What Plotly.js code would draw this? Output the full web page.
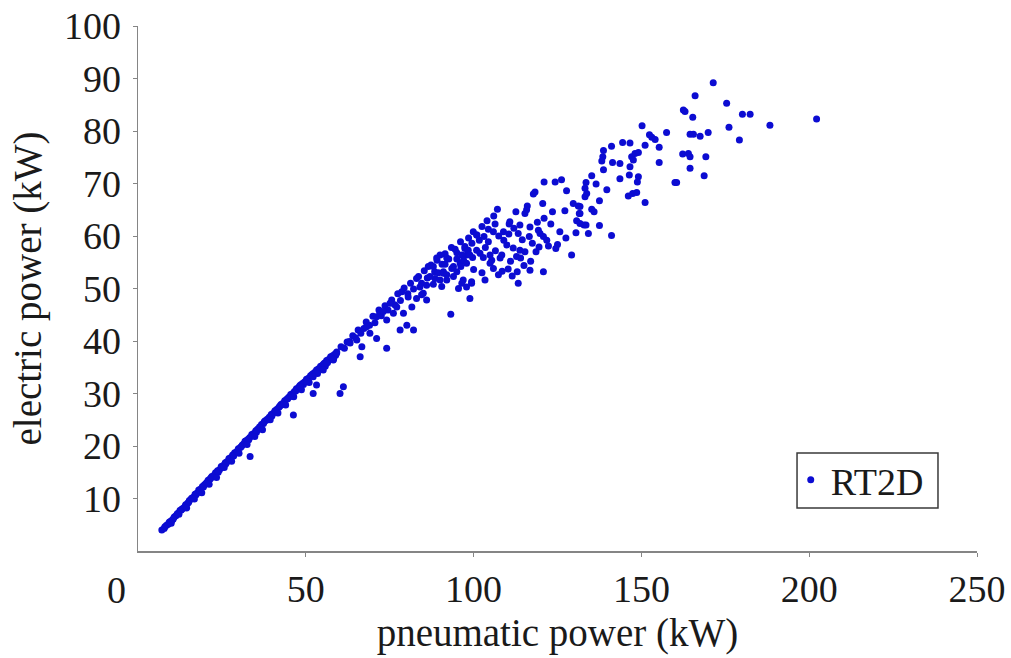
<!DOCTYPE html>
<html>
<head>
<meta charset="utf-8">
<script src="https://cdn.plot.ly/plotly-3.0.1.min.js"></script>
<style>html,body{margin:0;padding:0;background:#fff;}#chart{width:1011px;height:658px;}</style>
</head>
<body>
<div id="chart"></div>
<script>
// Tight lower band (pneumatic kW, electric kW)
var bandX = [7.1,7.8,8.5,9.0,9.6,10.2,10.8,11.3,12.0,12.5,13.1,13.6,14.2,14.8,15.3,15.9,16.4,17.0,17.5,18.1,18.7,19.2,19.8,20.3,20.9,21.5,22.0,22.6,23.1,23.7,24.3,24.8,25.4,26.0,26.5,27.1,27.7,28.2,28.8,29.4,29.9,30.5,31.1,31.6,32.2,32.8,33.3,33.9,34.5,35.1,35.6,36.2,36.8,37.4,37.9,38.5,39.1,39.7,40.2,40.8,41.4,42.0,42.6,43.1,43.7,44.3,44.9,45.5,46.1,46.6,47.2,47.8,48.4,49.0,49.6,50.2,50.8,51.4,52.0,52.6,53.2,53.8,54.4,55.0,55.6,56.2,56.8,57.4,58.0,58.6,59.2,
  8.0,9.3,10.5,11.7,12.9,14.0,15.1,16.2,17.3,18.4,19.5,20.6,21.7,22.8,23.9,25.0,26.2,27.3,28.5,29.6,30.8,31.9,33.0,34.2,35.3,36.5,37.6,38.8,39.9,41.1,42.3,43.4,44.6,45.8,47.0,48.1,49.3,50.5,51.7,52.9,54.1,55.3,56.5,57.7,58.9,
  9.9,12.2,14.5,16.8,19.0,21.2,23.4,25.7,27.9,30.1,32.5,34.8,37.1,39.4,41.7,44.0,46.4,48.7,51.0,53.5,55.8,58.3,33.4,46.3,52.2];
var bandY = [4.0,4.3,4.9,5.1,5.6,5.9,6.5,6.7,7.2,7.7,8.0,8.2,8.8,9.1,9.6,10.0,10.2,10.8,11.0,11.6,11.8,12.3,12.6,12.9,13.5,13.7,14.2,14.4,14.9,15.3,15.5,16.1,16.3,16.8,17.0,17.6,17.8,18.3,18.7,18.9,19.5,19.7,20.2,20.5,21.0,21.3,21.6,22.2,22.4,22.9,23.2,23.6,24.1,24.3,24.8,25.1,25.5,26.0,26.2,26.7,27.0,27.4,27.9,28.1,28.6,28.9,29.3,29.8,30.0,30.4,30.9,31.1,31.6,31.9,32.2,32.7,32.9,33.4,33.7,34.0,34.5,34.7,35.2,35.4,35.8,36.3,36.5,37.0,37.2,37.5,37.9,
  4.6,5.5,6.1,7.1,7.8,8.5,9.3,10.1,10.7,11.5,12.2,13.1,13.9,14.5,15.0,15.9,16.6,17.5,18.1,19.0,19.9,20.9,21.2,22.0,22.6,23.5,24.6,25.0,25.7,26.6,27.6,27.9,29.0,29.5,30.5,31.4,31.7,32.4,33.5,33.9,34.6,35.6,35.9,36.8,37.3,
  5.3,7.0,8.2,9.9,11.1,12.7,14.0,15.9,17.1,18.6,20.3,21.8,23.1,25.0,26.3,27.8,29.4,30.7,32.1,33.8,35.2,36.6,18.0,25.9,30.0];

// Middle section, widening band
var midX = [60.5,61.5,62.3,63.0,64.0,64.8,65.6,66.4,67.3,68.0,69.0,70.0,70.6,71.8,72.5,73.6,74.5,75.6,76.5,77.4,78.2,79.3,80.4,81.2,82.1,83.6,84.5,85.3,86.2,87.3,88.4,89.1,90.6,91.5,92.6,93.4,95.0,96.1,97.4,98.5,99.5,101.0,
  60.2,61.2,74.1,66.2,83.0,86.5,80.5,78.6,85.0,86.0,78.1,80.1,82.1,72.1,74.1,76.1,68.1,69.1,71.1,63.2,65.2,66.7,59.2,58.2,56.2,55.2,52.2,50.3,48.3,53.2,91.0,92.0,94.0,96.0,97.9,96.9,99.4,83.0,84.0,81.6,79.1,75.1,77.1,71.1,73.1,
  95.0,93.5,91.5,89.5,88.0,86.0,84.5,90.5,95.5,100.0];
var midY = [38.9,38.6,39.8,39.9,41.0,40.6,42.1,41.5,42.4,43.6,43.0,44.7,43.5,45.9,44.8,46.7,45.9,47.8,46.9,49.0,47.7,50.1,49.0,51.0,49.9,52.3,51.0,53.4,52.0,54.5,53.2,55.4,54.6,56.6,55.6,57.8,56.8,58.9,57.6,59.6,58.6,60.2,
  30.0,31.3,38.6,37.0,51.9,54.2,48.4,49.4,49.1,47.8,42.1,43.0,42.1,45.3,44.0,45.3,42.7,41.5,40.5,39.6,40.2,38.9,37.7,36.4,35.8,34.5,33.2,32.3,31.3,31.6,52.9,51.6,54.2,54.8,56.4,51.6,51.0,48.1,50.3,46.5,45.3,47.2,46.5,44.6,45.6,
  55.6,53.8,54.6,53.0,50.8,50.6,48.8,50.4,50.0,53.6];

// Scattered section (about 87-130 kW)
var spreadX = [121.0,124.3,126.2,127.7,118.3,117.8,120.6,116.0,115.8,115.3,112.6,107.1,127.2,129.7,131.2,131.5,130.7,132.9,130.5,123.0,125.7,119.3,119.8,120.8,121.8,122.3,116.8,116.6,110.8,110.6,113.8,113.3,106.4,104.4,105.9,108.9,99.9,100.9,101.7,103.1,104.4,97.4,98.4,98.9,99.7,94.5,90.0,92.0,89.0,96.5,97.0,97.9,96.2,100.9,101.9,102.9,104.9,105.4,107.9,108.4,109.9,111.8,113.8,112.8,115.3,118.6,88.0,87.0,88.5,90.0,91.0,92.0,94.0,95.0,96.5,97.9,99.4,104.9,105.9,103.4,107.4,110.3,113.0,113.3,116.8,120.8,129.2,98.9,93.2,
  102.5,104.0,106.0,107.5,109.0,110.5,112.0,114.5,117.5,119.0,121.0,123.5,125.0,127.5,103.5,106.5,111.0,114.0,117.0,102.5,108.5,111.5,115.0,124.5,119.5];
var spreadY = [70.3,70.3,70.7,68.6,68.4,68.0,66.2,65.7,65.0,64.3,64.6,65.1,64.8,66.2,65.7,64.3,62.9,62.1,60.6,62.3,60.8,61.1,60.5,59.9,59.2,58.1,61.7,59.9,62.7,62.3,62.1,60.5,62.3,61.3,60.8,60.8,60.8,60.2,59.2,59.9,58.9,58.0,57.3,56.4,55.9,57.5,56.4,55.8,55.8,56.4,55.4,54.8,54.2,57.3,56.7,55.9,56.4,55.4,55.8,56.4,58.3,57.7,57.3,56.1,57.0,57.0,54.2,52.3,51.9,51.6,53.2,52.6,52.3,53.2,51.0,50.3,51.3,54.8,53.8,51.6,52.6,53.7,53.2,51.0,53.5,53.2,56.4,48.1,45.1,
  61.8,62.9,63.8,60.0,59.2,60.4,61.5,59.3,58.6,62.6,63.4,64.6,58.4,59.6,57.8,57.2,55.2,55.8,55.2,53.0,53.3,52.4,54.4,57.6,57.9];

// Upper scattered section (about 130-202 kW)
var highX = [171.4,166.0,175.4,162.5,163.0,165.3,180.1,182.4,188.3,202.2,176.1,179.2,150.2,157.5,152.4,153.1,154.1,164.5,165.5,167.5,169.9,155.3,151.1,141.1,144.4,146.6,138.7,138.5,138.2,141.4,143.6,147.1,148.1,149.1,147.6,146.6,155.3,162.3,164.0,164.5,169.2,164.5,168.7,138.7,135.2,146.4,149.1,148.8,143.6,160.0,160.5,133.5,136.5,139.7,133.2,133.2,133.7,146.1,147.4,148.6,137.5,151.1,135.2,135.9,131.7,131.7,133.5,137.5,134.2,141.1,131.7];
var highY = [89.2,86.7,85.3,84.0,83.7,82.6,83.2,83.2,81.1,82.3,80.7,78.3,81.0,79.7,79.3,78.8,78.4,79.4,79.4,79.0,79.7,76.9,77.3,77.1,77.8,77.7,76.3,75.1,74.3,74.0,73.8,75.1,75.7,75.9,74.5,73.2,74.0,75.6,75.7,75.1,75.1,72.9,71.5,72.6,71.5,71.6,71.3,70.3,70.9,70.2,70.2,70.2,69.9,68.8,69.1,67.5,68.1,67.6,68.1,68.3,66.7,66.4,65.1,64.6,64.3,65.6,62.1,62.0,60.5,60.1,62.4];

var xTickVals = [50, 100, 150, 200, 250];
var yTickVals = [10, 20, 30, 40, 50, 60, 70, 80, 90, 100];
var seriesName = 'RT2D';

var xs = bandX.concat(midX, spreadX, highX);
var ys = bandY.concat(midY, spreadY, highY);

var FONT = '"Liberation Serif", "Times New Roman", serif';
var TXT = '#1a1a1a';
var trace = {
  x: xs, y: ys, type: 'scatter', mode: 'markers', name: seriesName,
  marker: {color: '#0c0cd2', size: 7, symbol: 'circle'},
  showlegend: true
};
var axisCommon = {
  showline: true, linecolor: '#858585', linewidth: 1.5,
  ticks: 'outside', ticklen: 4, tickcolor: '#858585', tickwidth: 1,
  showgrid: false, zeroline: false,
  tickfont: {family: FONT, size: 38, color: TXT}
};
var layout = {
  width: 1011, height: 658,
  margin: {l: 138, r: 34, t: 26, b: 107},
  paper_bgcolor: '#ffffff', plot_bgcolor: '#ffffff',
  font: {family: FONT, color: TXT},
  showlegend: true,
  xaxis: Object.assign({}, axisCommon, {
    range: [0, 250], tickvals: xTickVals, ticktext: xTickVals.map(String),
    title: {text: 'pneumatic power (kW)', font: {family: FONT, size: 39, color: TXT}, standoff: 9}
  }),
  yaxis: Object.assign({}, axisCommon, {
    range: [0, 100], tickvals: yTickVals, ticktext: yTickVals.map(String),
    ticklabelstandoff: 4,
    title: {text: 'electric power (kW)', font: {family: FONT, size: 39, color: TXT}, standoff: 10}
  }),
  legend: {
    x: 0.778, y: 0.195, xanchor: 'left', yanchor: 'top',
    bgcolor: 'rgba(0,0,0,0)', borderwidth: 0,
    font: {family: FONT, size: 38, color: TXT}
  },
  shapes: [{
    type: 'rect', xref: 'paper', yref: 'paper',
    x0: 0.7855, x1: 0.9535, y0: 0.0819, y1: 0.1867,
    line: {color: '#3a3a3a', width: 1.5}, fillcolor: 'rgba(0,0,0,0)', layer: 'above'
  }],
  annotations: [{
    text: '0', xref: 'paper', yref: 'paper', x: -0.0262, y: -0.0743,
    xanchor: 'center', yanchor: 'middle', showarrow: false,
    font: {family: FONT, size: 38, color: TXT}
  }]
};
Plotly.newPlot('chart', [trace], layout, {displayModeBar: false, staticPlot: true});
</script>
</body>
</html>
